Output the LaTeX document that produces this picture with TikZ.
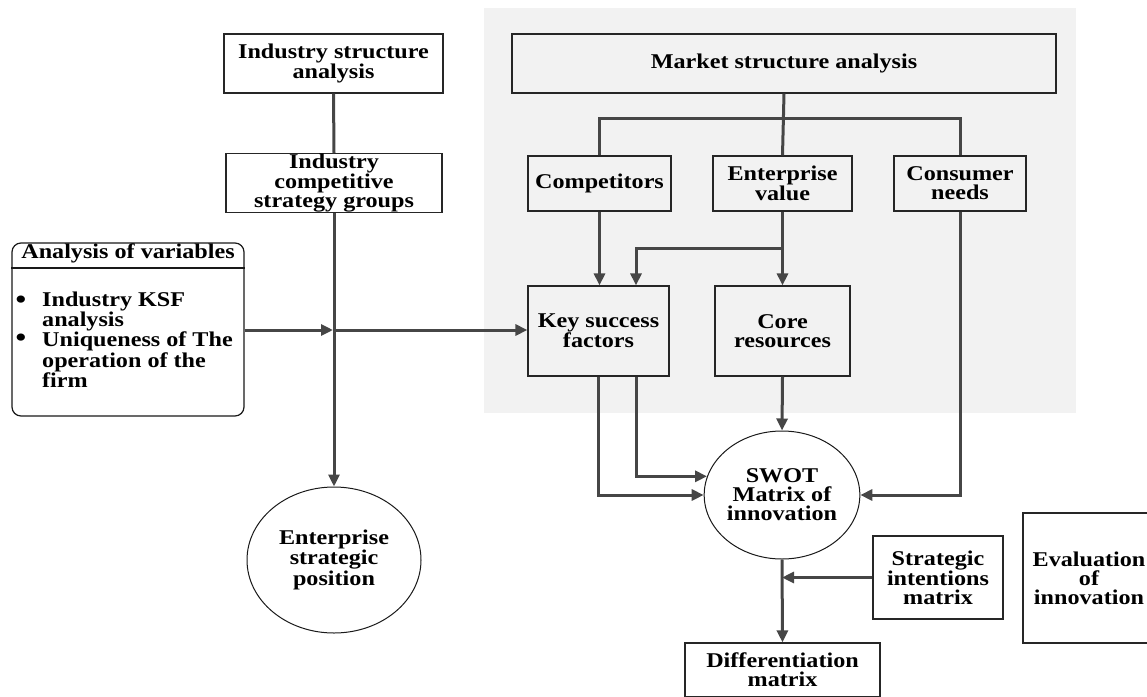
\documentclass[tikz,border=0pt]{standalone}
\usepackage{fontspec}
\setmainfont{Liberation Serif}[FakeStretch=1.15]
\usetikzlibrary{arrows.meta,shapes.geometric}
\definecolor{bggray}{RGB}{242,242,242}
\definecolor{linegray}{RGB}{70,70,70}
\tikzset{
  txt/.style={font=\fontsize{21}{19}\selectfont\bfseries, align=center, inner sep=0pt},
  bul/.style={font=\fontsize{30}{30}\selectfont, inner sep=0pt},
  boxnode/.style={txt, draw=black!85, line width=1.2pt, rectangle},
  ellnode/.style={txt, draw=black!90, line width=1pt, ellipse},
  conn/.style={draw=linegray, line width=3pt},
  arr/.style={conn, -{Triangle[length=12pt,width=11pt]}},
}
\begin{document}
\begin{tikzpicture}[x=1pt,y=-1pt]
\useasboundingbox (0,0) rectangle (1147,696);
\clip (0,0) rectangle (1147,696);
% background panel
\fill[bggray] (484,8) rectangle (1076,413);

% left column
\node[boxnode, minimum width=219pt, minimum height=59pt] (isa) at (333.5,63.5) {Industry structure\\analysis};
\node[boxnode, minimum width=216pt, minimum height=56pt] (icsg) at (334,183) {Industry\\competitive\\strategy groups};
\node[ellnode, minimum width=174pt, minimum height=146pt] (esp) at (334,560) {Enterprise\\strategic\\position};

% analysis of variables
\node[draw=black!90, line width=1.2pt, rounded corners=9pt, minimum width=232pt, minimum height=173pt, inner sep=0pt] (av) at (128,329.5) {};
\draw[black!90, line width=1.2pt] (av.west |- 0,268) -- (av.east |- 0,268);
\node[txt] (avt) at (128,253) {Analysis of variables};
\node[txt, align=left, anchor=west] (avl) at (42,339.5) {Industry KSF\\analysis\\Uniqueness of The\\operation of the\\firm};
\node[bul] (b1) at (21,303) {\textbullet};
\node[bul] (b2) at (21,341) {\textbullet};

% market panel
\node[boxnode, minimum width=544pt, minimum height=59pt] (msa) at (784,63.5) {Market structure analysis};
\node[boxnode, minimum width=143pt, minimum height=55pt] (comp) at (599.5,183.5) {Competitors};
\node[boxnode, minimum width=139pt, minimum height=55pt] (ev) at (782.5,183.5) {Enterprise\\value};
\node[boxnode, minimum width=132pt, minimum height=55pt] (cn) at (960,183.5) {Consumer\\needs};
\node[boxnode, minimum width=141pt, minimum height=90pt] (ksf) at (598.5,331) {Key success\\factors};
\node[boxnode, minimum width=135pt, minimum height=90pt] (core) at (782.5,331) {Core\\resources};

% lower right
\node[ellnode, minimum width=150pt, minimum height=128pt] (swot) at (782,495) {SWOT\\Matrix of\\innovation};
\node[boxnode, minimum width=130pt, minimum height=83pt] (sim) at (938,577.5) {Strategic\\intentions\\matrix};
\node[boxnode, minimum width=132pt, minimum height=130pt] (eval) at (1089,578) {Evaluation\\of\\innovation};
\node[boxnode, minimum width=195pt, minimum height=54pt] (diff) at (782.5,670) {Differentiation\\matrix};

% coordinates
\coordinate (j1) at (333,330);
\coordinate (bar) at (783,118);
\coordinate (br) at (783,248);

% connectors left
\draw[conn] (isa.south) -- (icsg.north);
\draw[arr] (icsg.south) -- (esp.north);
\draw[arr] (av.east |- j1) -- (j1);
\draw[arr] (j1) -- (ksf.west |- j1);

% connectors market
\draw[conn] (msa.south) -- (ev.north);
\draw[conn] (comp.north) |- (bar) -| (cn.north);
\draw[arr] (comp.south) -- (comp.south |- ksf.north);
\draw[arr] (ev.south) -- (core.north);
\draw[arr] (br) -| ([xshift=37.5pt]ksf.north);

% into SWOT
\draw[arr] ([xshift=-0.5pt]ksf.south) |- (swot.west);
\draw[arr] ([xshift=37.5pt]ksf.south) |- (swot.166);
\draw[arr] (core.south) -- (swot.north);
\draw[arr] (cn.south) |- (swot.east);

% below SWOT
\draw[arr] (swot.south) -- (diff.north);
\draw[arr] (sim.west) -- (swot.south |- sim.west);
\end{tikzpicture}
\end{document}
